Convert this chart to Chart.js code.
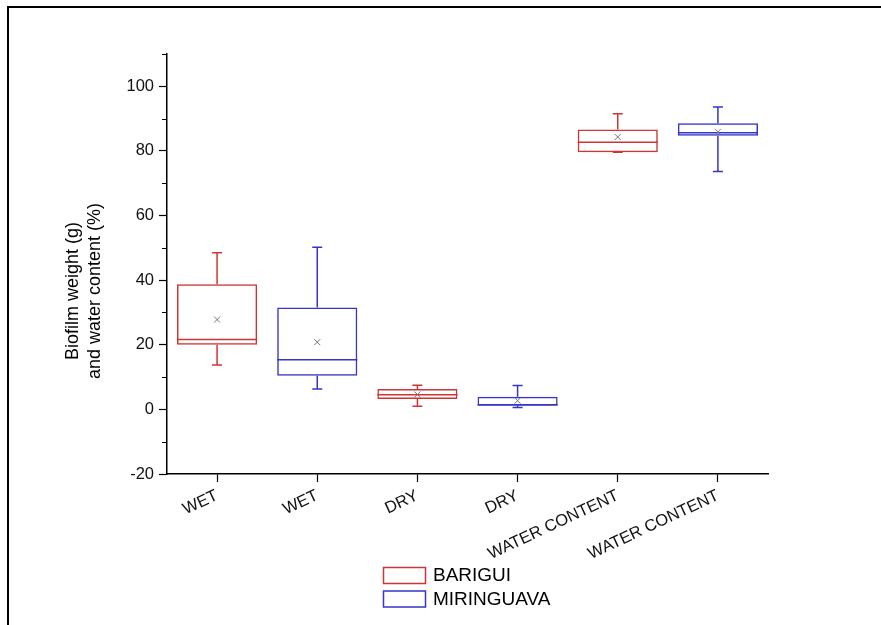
<!DOCTYPE html>
<html>
<head>
<meta charset="utf-8">
<title>Biofilm weight and water content</title>
<script src="https://cdn.jsdelivr.net/npm/chart.js@4/dist/chart.umd.min.js"></script>
<style>
  html, body { margin: 0; padding: 0; background: #fff; overflow: hidden; }
  #frame {
    position: absolute; left: 7px; top: 6px;
    width: 900px; height: 700px;
    border: 2px solid #000;
  }
  #wrap { position: absolute; left: 0; top: 0; width: 881px; height: 625px; }
</style>
</head>
<body>
<div id="frame"></div>
<div id="wrap"><canvas id="boxChart" width="881" height="625"></canvas></div>
<script>
// one box per category, in drawing order
const categories = ["WET", "WET", "DRY", "DRY", "WATER CONTENT", "WATER CONTENT"];
const river = ["BARIGUI", "MIRINGUAVA", "BARIGUI", "MIRINGUAVA", "BARIGUI", "MIRINGUAVA"];

const whiskerLow  = [13.7,  6.3, 1.0, 0.6, 79.6, 73.6];
const q1          = [20.0, 10.4, 3.2, 1.1, 79.6, 84.7];
const median      = [21.6, 15.4, 4.5, 1.4, 82.7, 85.6];
const q3          = [38.7, 31.5, 6.3, 3.9, 86.6, 88.6];
const whiskerHigh = [48.5, 50.2, 7.5, 7.4, 91.5, 93.6];
const mean        = [27.8, 20.8, 4.6, 2.7, 84.3, 85.9];

const series = ["BARIGUI", "MIRINGUAVA"];
const seriesColors = ["#cf3535", "#3535c8"];

const yMin = -20, yMax = 110;

function boxData(name) {
    return categories.map((c, i) => river[i] === name ? [q1[i], q3[i]] : null);
}

// median, whiskers and mean marks on top of the floating bars
const boxExtras = {
    id: "boxExtras",
    afterDatasetsDraw(chart) {
        const ctx = chart.ctx;
        const y = chart.scales.y;
        chart.data.datasets.forEach((ds, d) => {
            const meta = chart.getDatasetMeta(d);
            meta.data.forEach((bar, i) => {
                if (!ds.data[i]) return;
                const half = bar.width / 2;
                const x = bar.x;
                ctx.save();
                ctx.strokeStyle = ds.borderColor;
                ctx.lineWidth = 1.5;
                ctx.beginPath();
                // median
                ctx.moveTo(x - half, y.getPixelForValue(median[i]));
                ctx.lineTo(x + half, y.getPixelForValue(median[i]));
                // whiskers
                ctx.moveTo(x, y.getPixelForValue(q3[i]));
                ctx.lineTo(x, y.getPixelForValue(whiskerHigh[i]));
                ctx.moveTo(x, y.getPixelForValue(q1[i]));
                ctx.lineTo(x, y.getPixelForValue(whiskerLow[i]));
                // caps
                ctx.moveTo(x - 5, y.getPixelForValue(whiskerHigh[i]));
                ctx.lineTo(x + 5, y.getPixelForValue(whiskerHigh[i]));
                ctx.moveTo(x - 5, y.getPixelForValue(whiskerLow[i]));
                ctx.lineTo(x + 5, y.getPixelForValue(whiskerLow[i]));
                ctx.stroke();
                // mean
                const my = y.getPixelForValue(mean[i]);
                ctx.strokeStyle = "#777";
                ctx.lineWidth = 1;
                ctx.beginPath();
                ctx.moveTo(x - 3, my - 3); ctx.lineTo(x + 3, my + 3);
                ctx.moveTo(x - 3, my + 3); ctx.lineTo(x + 3, my - 3);
                ctx.stroke();
                ctx.restore();
            });
        });
    },
    afterDraw(chart) {
        const ctx = chart.ctx;
        const y = chart.scales.y;
        const left = chart.chartArea.left;
        ctx.save();
        // minor ticks on the value axis
        ctx.strokeStyle = "#000";
        ctx.lineWidth = 1.2;
        ctx.beginPath();
        for (let v = yMin + 10; v <= yMax; v += 20) {
            const py = Math.round(y.getPixelForValue(v)) + 0.5;
            ctx.moveTo(left - 5, py);
            ctx.lineTo(left, py);
        }
        ctx.stroke();

        // axis title, two lines
        ctx.fillStyle = "#000";
        ctx.font = "18px 'Liberation Sans', Arial, sans-serif";
        ctx.textAlign = "center";
        ctx.textBaseline = "middle";
        ctx.translate(73, 291);
        ctx.rotate(-Math.PI / 2);
        ctx.fillText("Biofilm weight (g)", 0, 0);
        ctx.fillText("and water content (%)", 0, 22);
        ctx.restore();

        // legend
        ctx.save();
        ctx.font = "19px 'Liberation Sans', Arial, sans-serif";
        ctx.textBaseline = "middle";
        ctx.lineWidth = 1.5;
        series.forEach((name, k) => {
            const top = 567 + k * 23.5;
            ctx.strokeStyle = seriesColors[k];
            ctx.strokeRect(383.5, top + 0.5, 42, 16);
            ctx.fillStyle = "#000";
            ctx.fillText(name, 433, top + 9);
        });
        ctx.restore();
    }
};

const ctx = document.getElementById("boxChart").getContext("2d");

new Chart(ctx, {
    type: "bar",
    data: {
        labels: categories,
        datasets: series.map((name, k) => ({
            label: name,
            data: boxData(name),
            backgroundColor: "rgba(0,0,0,0)",
            borderColor: seriesColors[k],
            borderWidth: 1.5,
            borderSkipped: false,
            grouped: false,
            barPercentage: 0.8,
            categoryPercentage: 1.0
        }))
    },
    options: {
        responsive: false,
        animation: false,
        layout: { padding: { left: 0, top: 54, right: 113, bottom: 51 } },
        plugins: {
            legend: { display: false },
            tooltip: { enabled: false }
        },
        scales: {
            x: {
                afterFit: (scale) => { scale.height = 100; },
                grid: {
                    offset: false,
                    drawOnChartArea: false,
                    tickLength: 8,
                    tickColor: "#000",
                    tickWidth: 1.2
                },
                border: { color: "#000", width: 1.5 },
                ticks: {
                    autoSkip: false,
                    minRotation: 25,
                    maxRotation: 25,
                    padding: 4,
                    color: "#111",
                    font: { family: "'Liberation Sans', Arial, sans-serif", size: 16.5 }
                }
            },
            y: {
                min: yMin,
                max: yMax,
                afterFit: (scale) => { scale.width = 167; },
                grid: {
                    drawOnChartArea: false,
                    tickLength: 8,
                    tickWidth: 1.2,
                    tickColor: (c) => (c.tick && c.tick.value % 20 === 0 && c.tick.value <= 100) ? "#000" : "rgba(0,0,0,0)"
                },
                border: { color: "#000", width: 1.5 },
                ticks: {
                    stepSize: 10,
                    padding: 5,
                    color: "#111",
                    font: { family: "'Liberation Sans', Arial, sans-serif", size: 16.5 },
                    callback: (v) => (v % 20 === 0 && v <= 100) ? v : ""
                }
            }
        }
    },
    plugins: [boxExtras]
});
</script>
</body>
</html>
